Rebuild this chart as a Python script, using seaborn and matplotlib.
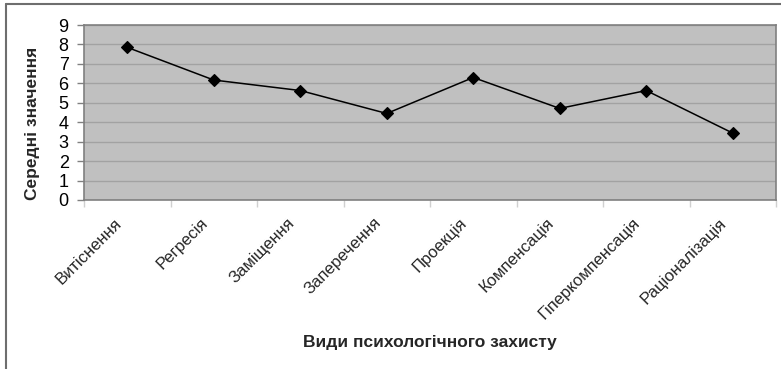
import matplotlib
matplotlib.use("Agg")
import matplotlib.pyplot as plt
import matplotlib.transforms as mtransforms
from matplotlib.lines import Line2D
from matplotlib.ticker import FixedLocator
import seaborn as sns

# Mean scores by type of psychological defence
categories = ["Витіснення", "Регресія", "Заміщення", "Заперечення",
              "Проекція", "Компенсація", "Гіперкомпенсація", "Раціоналізація"]
values = [7.85, 6.17, 5.63, 4.45, 6.30, 4.71, 5.63, 3.44]
y_ticks = list(range(0, 10))
x_title = "Види психологічного захисту"
y_title = "Середні значення"

sns.set_theme(style="white")
plt.rcParams["font.family"] = ["Liberation Sans", "DejaVu Sans"]

W, H = 781, 369
fig = plt.figure(figsize=(W / 100, H / 100), dpi=100)
fig.patch.set_facecolor("white")

# plot area in pixel terms: x 84..776, y 25..200
ax = fig.add_axes([84 / W, 1 - 200 / H, 692 / W, 175 / H])
ax.set_facecolor("#c0c0c0")

sns.pointplot(x=categories, y=values, ax=ax, color="black", markers="D",
              markersize=6, linewidth=1.1, errorbar=None)

ax.set_xlim(-0.5, len(categories) - 0.5)
ax.set_ylim(0, 9)
ax.set_yticks(y_ticks)
ax.yaxis.grid(True, color="#a2a2a2", linewidth=1.0)
ax.xaxis.grid(False)
ax.set_axisbelow(True)

for side in ["left", "bottom", "right", "top"]:
    ax.spines[side].set_color("#808080")
    ax.spines[side].set_linewidth(1.2)

ax.tick_params(axis="y", which="major", left=True, length=5, width=1,
               color="#808080", labelsize=13, pad=6, labelcolor="black")
# category boundary ticks below the axis, labels at category centres
ax.xaxis.set_minor_locator(FixedLocator([i - 0.5 for i in range(len(categories) + 1)]))
ax.tick_params(axis="x", which="minor", bottom=True, length=5, width=1, color="#d0d0d0")
ax.tick_params(axis="x", which="major", bottom=False, length=0, pad=11)
ax.set_xticks(range(len(categories)))
ax.set_xticklabels(categories, rotation=45, ha="right", va="top", fontsize=12)
shift = mtransforms.ScaledTranslation(-3 / 100, 0, fig.dpi_scale_trans)
for lbl in ax.get_xticklabels():
    lbl.set_transform(lbl.get_transform() + shift)

ax.set_xlabel("")
ax.set_ylabel("")
fig.text(430 / W, 1 - 343 / H, x_title, ha="center", va="center",
         fontsize=12.5, fontweight="bold")
fig.text(33 / W, 1 - 123 / H, y_title, ha="center", va="center",
         rotation=90, fontsize=12.5, fontweight="bold")

# chart frame: top and left edges
fig.add_artist(Line2D([6 / W, 1.0], [1 - 4 / H, 1 - 4 / H], transform=fig.transFigure,
                      color="#6e6e6e", linewidth=1.5))
fig.add_artist(Line2D([6 / W, 6 / W], [1 - 4 / H, 0.0], transform=fig.transFigure,
                      color="#6e6e6e", linewidth=1.5))

fig.savefig("out.png", dpi=100)
